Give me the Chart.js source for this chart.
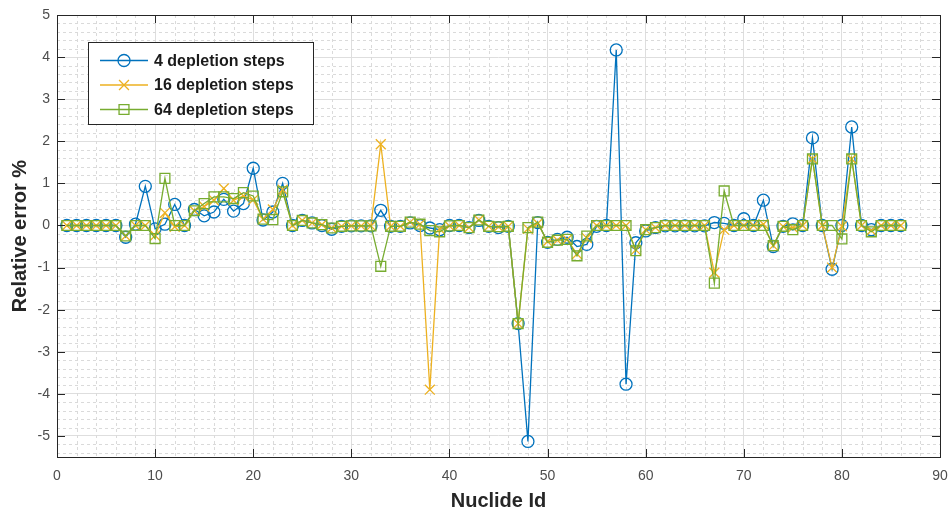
<!DOCTYPE html>
<html>
<head>
<meta charset="utf-8">
<title>Relative error per nuclide</title>
<script src="https://cdn.jsdelivr.net/npm/chart.js@4/dist/chart.umd.min.js"></script>
<style>
    body { margin: 0; background: #fff; }
    #wrap { width: 949px; height: 513px; }
</style>
</head>
<body>
<div id="wrap"><canvas id="errorChart" width="949" height="513"></canvas></div>
<script>
// relative error (%) per nuclide, one list per depletion step count
const steps4 = [
    0, 0, 0, 0, 0, 0, -0.28, 0.03, 0.93, -0.08,
    0.03, 0.5, 0, 0.38, 0.23, 0.32, 0.62, 0.34, 0.52, 1.36,
    0.13, 0.32, 1.0, 0, 0.12, 0.06, 0, -0.09, -0.02, -0.01,
    -0.01, -0.01, 0.36, -0.02, -0.02, 0.06, 0, -0.06, -0.1, 0,
    0, -0.05, 0.12, -0.02, -0.05, -0.02, -2.33, -5.13, 0.07, -0.4,
    -0.33, -0.28, -0.5, -0.45, -0.02, 0, 4.17, -3.77, -0.41, -0.13,
    -0.05, -0.01, -0.01, -0.01, -0.01, -0.01, 0.07, 0.05, 0, 0.16,
    0, 0.6, -0.5, -0.02, 0.04, 0, 2.08, 0, -1.04, 0,
    2.34, 0, -0.1, 0, 0, 0
];
const steps16 = [
    0, 0, 0, 0, 0, 0, -0.25, 0, 0, -0.24,
    0.3, -0.03, 0, 0.35, 0.45, 0.6, 0.88, 0.6, 0.7, 0.61,
    0.15, 0.38, 0.85, 0, 0.12, 0.06, 0.02, -0.06, -0.02, -0.01,
    -0.01, -0.01, 1.93, -0.02, -0.02, 0.08, 0.03, -3.9, -0.08, -0.01,
    0, -0.05, 0.13, -0.02, -0.03, -0.02, -2.33, -0.08, 0.05, -0.38,
    -0.35, -0.33, -0.68, -0.3, 0, 0, 0, 0, -0.58, -0.1,
    -0.05, 0, 0, 0, 0, 0, -1.12, -0.1, 0, 0,
    0, 0.03, -0.48, -0.02, -0.05, 0, 1.58, 0, -1.0, -0.02,
    1.58, 0, -0.12, 0, 0, 0
];
const steps64 = [
    0, 0, 0, 0, 0, 0, -0.25, 0, 0, -0.31,
    1.12, 0, 0, 0.35, 0.52, 0.68, 0.68, 0.64, 0.78, 0.7,
    0.15, 0.14, 0.8, 0, 0.12, 0.06, 0.02, -0.06, -0.02, -0.01,
    -0.01, -0.01, -0.97, -0.02, -0.02, 0.08, 0.03, -0.12, -0.15, -0.01,
    0, -0.05, 0.13, -0.02, -0.03, -0.02, -2.33, -0.05, 0.08, -0.4,
    -0.35, -0.33, -0.72, -0.25, 0, 0, 0, 0, -0.6, -0.1,
    -0.05, 0, 0, 0, 0, 0, -1.37, 0.82, 0, 0,
    0, 0, -0.48, -0.02, -0.1, 0, 1.58, 0, 0, -0.32,
    1.58, 0, -0.15, 0, 0, 0
];
const seriesLabels = ['4 depletion steps', '16 depletion steps', '64 depletion steps'];
const xTicks = [0, 10, 20, 30, 40, 50, 60, 70, 80, 90];
const yTicks = [-5, -4, -3, -2, -1, 0, 1, 2, 3, 4, 5];

// nuclide ids run 1..n
const nuclideIds = steps4.map(function(v, i) { return i + 1; });

function toPoints(values) {
    return values.map(function(v, i) { return { x: nuclideIds[i], y: v }; });
}

var fontFamily = '"Liberation Sans", Arial, Helvetica, sans-serif';
var axisColor = '#262626';

// dotted minor grid, box with inward ticks and a framed legend in the upper left
var matlabAxes = {
    id: 'matlabAxes',
    beforeDatasetsDraw: function(chart) {
        var ctx = chart.ctx, a = chart.chartArea;
        var xs = chart.scales.x, ys = chart.scales.y;
        ctx.save();
        ctx.strokeStyle = '#dadada';
        ctx.lineWidth = 1;
        ctx.setLineDash([3, 3]);
        ctx.beginPath();
        for (var xv = 2; xv < 90; xv += 2) {
            if (xv % 10 === 0) continue;
            var px = Math.round(xs.getPixelForValue(xv)) + 0.5;
            ctx.moveTo(px, a.top); ctx.lineTo(px, a.bottom);
        }
        for (var k = -27; k <= 24; k++) {
            if (k % 5 === 0) continue;
            var py = Math.round(ys.getPixelForValue(k / 5)) + 0.5;
            ctx.moveTo(a.left, py); ctx.lineTo(a.right, py);
        }
        ctx.stroke();
        ctx.restore();
    },
    afterDatasetsDraw: function(chart) {
        var ctx = chart.ctx, a = chart.chartArea;
        var xs = chart.scales.x, ys = chart.scales.y;
        var tick = 8;
        ctx.save();
        ctx.strokeStyle = axisColor;
        ctx.lineWidth = 1;
        ctx.beginPath();
        xTicks.forEach(function(v) {
            var px = Math.round(xs.getPixelForValue(v)) + 0.5;
            ctx.moveTo(px, a.bottom); ctx.lineTo(px, a.bottom - tick);
            ctx.moveTo(px, a.top); ctx.lineTo(px, a.top + tick);
        });
        yTicks.forEach(function(v) {
            var py = Math.round(ys.getPixelForValue(v)) + 0.5;
            ctx.moveTo(a.left, py); ctx.lineTo(a.left + tick, py);
            ctx.moveTo(a.right, py); ctx.lineTo(a.right - tick, py);
        });
        ctx.stroke();
        ctx.strokeRect(Math.round(a.left) + 0.5, Math.round(a.top) + 0.5,
                       Math.round(a.right - a.left), Math.round(a.bottom - a.top));

        // legend
        var bx = a.left + 31, by = a.top + 27, bw = 225, bh = 82;
        ctx.fillStyle = '#ffffff';
        ctx.fillRect(bx, by, bw, bh);
        ctx.strokeStyle = axisColor;
        ctx.strokeRect(bx + 0.5, by + 0.5, bw, bh);
        ctx.font = 'bold 16px ' + fontFamily;
        ctx.textBaseline = 'middle';
        ctx.textAlign = 'left';
        chart.data.datasets.forEach(function(ds, i) {
            var ry = by + 18.5 + i * 24.5;
            ctx.strokeStyle = ds.borderColor;
            ctx.lineWidth = ds.borderWidth;
            ctx.beginPath();
            ctx.moveTo(bx + 12, ry); ctx.lineTo(bx + 60, ry);
            ctx.stroke();
            ctx.fillStyle = 'rgba(0,0,0,0)';
            Chart.helpers.drawPoint(ctx, {
                pointStyle: ds.pointStyle, radius: ds.pointRadius,
                rotation: 0, borderWidth: ds.pointBorderWidth
            }, bx + 36, ry);
            ctx.fillStyle = '#1a1a1a';
            ctx.fillText(ds.label, bx + 66, ry + 1);
        });
        ctx.restore();
    }
};

document.addEventListener("DOMContentLoaded", function() {
    var ctx = document.getElementById('errorChart').getContext('2d');
    var errorChart = new Chart(ctx, {
        type: 'line',
        data: {
            datasets: [{
                label: seriesLabels[0],
                data: toPoints(steps4),
                borderColor: '#0072BD',
                backgroundColor: 'rgba(0,0,0,0)',
                borderWidth: 1.3,
                pointStyle: 'circle',
                pointRadius: 6,
                pointBorderWidth: 1.3,
                order: 3
            }, {
                label: seriesLabels[1],
                data: toPoints(steps16),
                borderColor: '#EDB120',
                backgroundColor: 'rgba(0,0,0,0)',
                borderWidth: 1.3,
                pointStyle: 'crossRot',
                pointRadius: 7,
                pointBorderWidth: 1.3,
                order: 2
            }, {
                label: seriesLabels[2],
                data: toPoints(steps64),
                borderColor: '#77AC30',
                backgroundColor: 'rgba(0,0,0,0)',
                borderWidth: 1.3,
                pointStyle: 'rect',
                pointRadius: 7,
                pointBorderWidth: 1.3,
                order: 1
            }]
        },
        options: {
            responsive: false,
            animation: false,
            devicePixelRatio: 1,
            layout: { padding: { top: 15, right: 9, left: 0, bottom: 0 } },
            elements: { line: { tension: 0 } },
            scales: {
                x: {
                    type: 'linear',
                    min: 0,
                    max: 90,
                    afterBuildTicks: function(scale) {
                        scale.ticks = xTicks.map(function(v) { return { value: v }; });
                    },
                    afterFit: function(scale) {
                        scale.height = 56;
                        scale.paddingLeft = 0;
                        scale.paddingRight = 0;
                    },
                    border: { display: false },
                    grid: { color: '#dedede', drawTicks: false, lineWidth: 1 },
                    ticks: {
                        color: '#4d4d4d',
                        padding: 11,
                        maxRotation: 0,
                        font: { family: fontFamily, size: 14 }
                    },
                    title: {
                        display: true,
                        text: 'Nuclide Id',
                        color: axisColor,
                        padding: { top: 0, bottom: 0 },
                        font: { family: fontFamily, size: 20, weight: 'bold' }
                    }
                },
                y: {
                    min: -5.5,
                    max: 5,
                    afterBuildTicks: function(scale) {
                        scale.ticks = yTicks.map(function(v) { return { value: v }; });
                    },
                    afterFit: function(scale) {
                        scale.width = 57;
                        scale.paddingTop = 0;
                        scale.paddingBottom = 0;
                    },
                    border: { display: false },
                    grid: { color: '#dedede', drawTicks: false, lineWidth: 1 },
                    ticks: {
                        color: '#4d4d4d',
                        padding: 7,
                        font: { family: fontFamily, size: 14 }
                    },
                    title: {
                        display: true,
                        text: 'Relative error %',
                        color: axisColor,
                        padding: { top: 8, bottom: 0 },
                        font: { family: fontFamily, size: 20, weight: 'bold' }
                    }
                }
            },
            plugins: {
                legend: { display: false },
                tooltip: { enabled: false }
            }
        },
        plugins: [matlabAxes]
    });
});
</script>
</body>
</html>
